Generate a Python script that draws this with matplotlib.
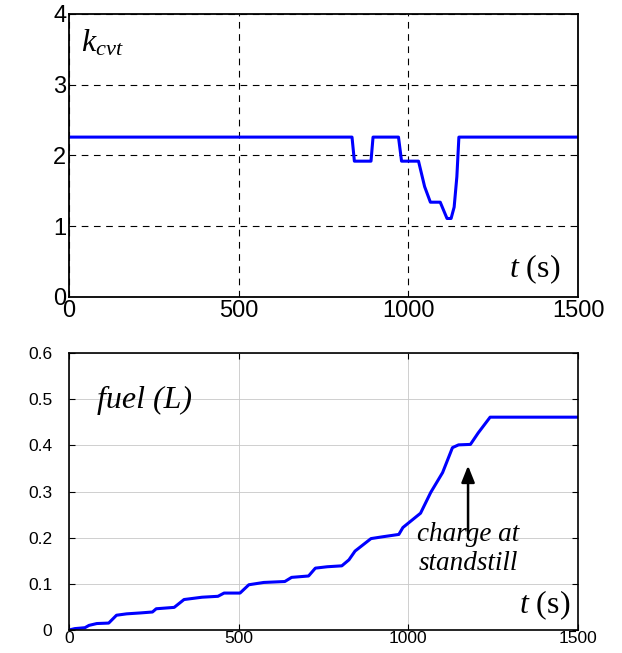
import matplotlib
matplotlib.use('Agg')
import matplotlib.pyplot as plt

plt.rcParams['font.family'] = ['Liberation Sans', 'DejaVu Sans']
plt.rcParams['mathtext.fontset'] = 'custom'
plt.rcParams['mathtext.rm'] = 'Liberation Serif'
plt.rcParams['mathtext.it'] = 'Liberation Serif:italic'

# relação da CVT (k_cvt) ao longo do tempo
t_k = [0, 834, 841, 890, 896, 971, 980, 1030, 1048, 1065, 1094, 1114, 1126,
       1135, 1143, 1149, 1500]
k_cvt = [2.26, 2.26, 1.92, 1.92, 2.26, 2.26, 1.92, 1.92, 1.56, 1.34, 1.34,
         1.11, 1.11, 1.27, 1.70, 2.26, 2.26]

# consumo acumulado de combustível
t_fuel = [0, 17, 47, 59, 82, 117, 140, 170, 211, 246, 257, 310, 339, 392, 439,
          457, 504, 530, 574, 636, 656, 706, 726, 761, 804, 825, 843, 890, 925,
          972, 984, 1036, 1066, 1101, 1130, 1148, 1183, 1206, 1241, 1500]
fuel = [0, 0.003, 0.005, 0.010, 0.014, 0.015, 0.032, 0.035, 0.037, 0.039,
        0.046, 0.049, 0.066, 0.071, 0.073, 0.080, 0.080, 0.098, 0.103, 0.105,
        0.114, 0.117, 0.134, 0.137, 0.139, 0.152, 0.171, 0.198, 0.202, 0.207,
        0.222, 0.253, 0.298, 0.341, 0.395, 0.401, 0.402, 0.427, 0.461, 0.461]

x_ticks = [0, 500, 1000, 1500]

fig = plt.figure(figsize=(6.22, 6.53), dpi=100)

# Grafico superior: k_cvt
ax1 = fig.add_axes([69 / 622, 1 - 297 / 653, 509 / 622, 283 / 653])
ax1.plot(t_k, k_cvt, color='#0000ff', lw=2.2)
ax1.set_xlim(0, 1500)
ax1.set_ylim(0, 4)
ax1.set_xticks(x_ticks)
ax1.set_yticks([0, 1, 2, 3, 4])
ax1.grid(True, color='black', ls=(0, (6, 5)), lw=0.8)
ax1.tick_params(labelsize=17, length=0, pad=2)
for s in ax1.spines.values():
    s.set_linewidth(1.3)
ax1.text(0.024, 0.95, r'$k_{cvt}$', transform=ax1.transAxes, fontsize=23,
         va='top', ha='left')
ax1.text(0.965, 0.04, r'$t$ (s)', transform=ax1.transAxes, fontsize=23,
         family='Liberation Serif', ha='right', va='bottom')

# Grafico inferior: combustível
ax2 = fig.add_axes([69 / 622, 1 - 630 / 653, 509 / 622, 277 / 653])
ax2.plot(t_fuel, fuel, color='#0000ff', lw=2.2)
ax2.set_xlim(0, 1500)
ax2.set_ylim(0, 0.6)
ax2.set_xticks(x_ticks)
ax2.set_yticks([0, 0.1, 0.2, 0.3, 0.4, 0.5, 0.6])
ax2.set_yticklabels(['0', '0.1', '0.2', '0.3', '0.4', '0.5', '0.6'])
ax2.grid(True, color='#c8c8c8', lw=0.6)
ax2.tick_params(labelsize=12.5, direction='in', length=4, right=True, top=True,
                pad=1)
ax2.tick_params(axis='y', pad=12)
for s in ax2.spines.values():
    s.set_linewidth(1.2)
ax2.text(0.055, 0.88, 'fuel (L)', transform=ax2.transAxes, fontsize=23,
         family='Liberation Serif', style='italic', va='top', ha='left')
ax2.text(1176, 0.175, 'charge at\nstandstill', fontsize=19.5,
         family='Liberation Serif', style='italic', ha='center', va='center',
         linespacing=1.2)
ax2.annotate('', xy=(1176, 0.362), xytext=(1176, 0.202),
             arrowprops=dict(arrowstyle='-|>,head_width=0.4,head_length=1.0',
                             color='black', lw=1.8))
ax2.text(0.985, 0.03, r'$t$ (s)', transform=ax2.transAxes, fontsize=23,
         family='Liberation Serif', ha='right', va='bottom')

fig.savefig('out.png', dpi=100)
